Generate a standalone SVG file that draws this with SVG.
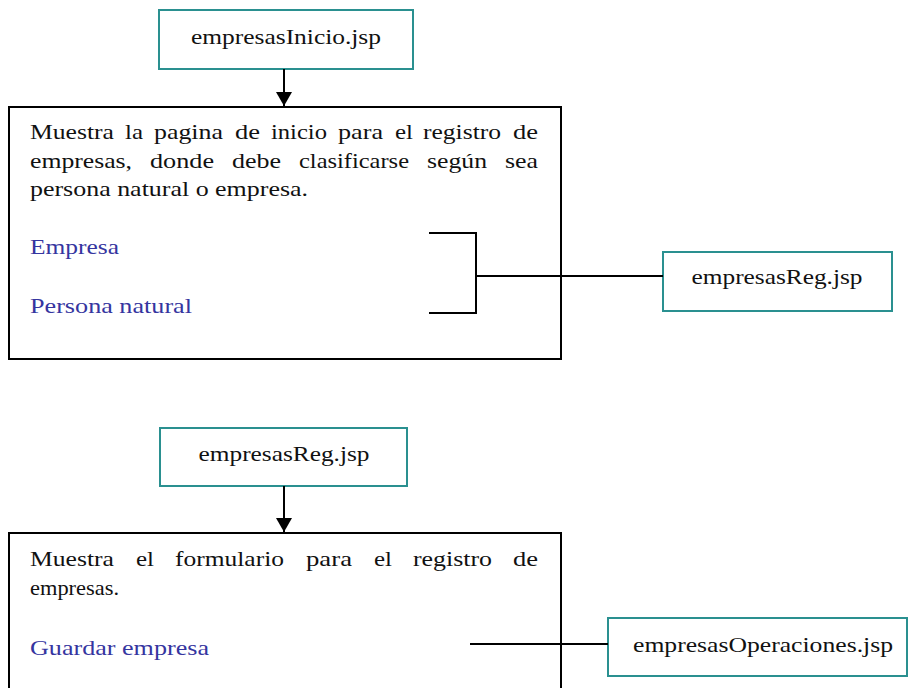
<svg xmlns="http://www.w3.org/2000/svg" width="909" height="688" viewBox="0 0 909 688">
<style>
  .page { fill: #ffffff; stroke: #000000; stroke-width: 2; }
  .file { fill: #ffffff; stroke: #2a9090; stroke-width: 2; }
  .t { font-family: "Liberation Serif", "DejaVu Serif", serif; font-size: 22px; fill: #111111; }
  .link { font-family: "Liberation Serif", "DejaVu Serif", serif; font-size: 22px; fill: #3535a0; }
  .mid { text-anchor: middle; }
  .wire { fill: none; stroke: #000000; stroke-width: 2; }
</style>
<defs>
  <marker id="arr" markerWidth="14" markerHeight="16" refX="14" refY="8" orient="auto" markerUnits="userSpaceOnUse" viewBox="0 0 14 16">
    <path d="M0,0 L14,8 L0,16 Z" fill="#000000"/>
  </marker>
</defs>
<rect width="909" height="688" fill="#ffffff"/>

<g id="node-inicio">
  <rect class="file" x="159" y="10" width="254" height="59"/>
  <text class="t mid" x="286" y="44" textLength="190" lengthAdjust="spacingAndGlyphs">empresasInicio.jsp</text>
</g>

<g id="node-page1">
  <rect class="page" x="9" y="107" width="552" height="252"/>
  <text class="t" y="139"><tspan x="30" textLength="84" lengthAdjust="spacingAndGlyphs">Muestra</tspan><tspan x="125" textLength="18" lengthAdjust="spacingAndGlyphs">la</tspan><tspan x="154" textLength="69" lengthAdjust="spacingAndGlyphs">pagina</tspan><tspan x="235" textLength="25" lengthAdjust="spacingAndGlyphs">de</tspan><tspan x="271" textLength="56" lengthAdjust="spacingAndGlyphs">inicio</tspan><tspan x="338" textLength="45" lengthAdjust="spacingAndGlyphs">para</tspan><tspan x="395" textLength="18" lengthAdjust="spacingAndGlyphs">el</tspan><tspan x="423" textLength="78" lengthAdjust="spacingAndGlyphs">registro</tspan><tspan x="513" textLength="25" lengthAdjust="spacingAndGlyphs">de</tspan></text>
  <text class="t" y="168"><tspan x="30" textLength="102" lengthAdjust="spacingAndGlyphs">empresas,</tspan><tspan x="150" textLength="64" lengthAdjust="spacingAndGlyphs">donde</tspan><tspan x="232" textLength="49" lengthAdjust="spacingAndGlyphs">debe</tspan><tspan x="299" textLength="110" lengthAdjust="spacingAndGlyphs">clasificarse</tspan><tspan x="427" textLength="60" lengthAdjust="spacingAndGlyphs">según</tspan><tspan x="505" textLength="33" lengthAdjust="spacingAndGlyphs">sea</tspan></text>
  <text class="t" x="30" y="196" textLength="278" lengthAdjust="spacingAndGlyphs">persona natural o empresa.</text>
  <text class="link" x="30" y="254" textLength="89" lengthAdjust="spacingAndGlyphs">Empresa</text>
  <text class="link" x="30" y="313" textLength="162" lengthAdjust="spacingAndGlyphs">Persona natural</text>
</g>

<g id="node-reg1">
  <rect class="file" x="663" y="252" width="229" height="59"/>
  <text class="t mid" x="777" y="284" textLength="171" lengthAdjust="spacingAndGlyphs">empresasReg.jsp</text>
</g>

<g id="node-reg2">
  <rect class="file" x="160" y="428" width="247" height="58"/>
  <text class="t mid" x="284" y="461" textLength="171" lengthAdjust="spacingAndGlyphs">empresasReg.jsp</text>
</g>

<g id="node-page2">
  <rect class="page" x="9" y="533" width="552" height="170"/>
  <text class="t" y="566"><tspan x="30" textLength="84" lengthAdjust="spacingAndGlyphs">Muestra</tspan><tspan x="136" textLength="18" lengthAdjust="spacingAndGlyphs">el</tspan><tspan x="175" textLength="109" lengthAdjust="spacingAndGlyphs">formulario</tspan><tspan x="306" textLength="46" lengthAdjust="spacingAndGlyphs">para</tspan><tspan x="374" textLength="18" lengthAdjust="spacingAndGlyphs">el</tspan><tspan x="413" textLength="79" lengthAdjust="spacingAndGlyphs">registro</tspan><tspan x="513" textLength="25" lengthAdjust="spacingAndGlyphs">de</tspan></text>
  <text class="t" x="30" y="595" textLength="89" lengthAdjust="spacingAndGlyphs">empresas.</text>
  <text class="link" x="30" y="655" textLength="179" lengthAdjust="spacingAndGlyphs">Guardar empresa</text>
</g>

<g id="node-operaciones">
  <rect class="file" x="608" y="618" width="299" height="58"/>
  <text class="t mid" x="763" y="652" textLength="260" lengthAdjust="spacingAndGlyphs">empresasOperaciones.jsp</text>
</g>

<g id="connectors">
  <line class="wire" x1="284" y1="69" x2="284" y2="106" marker-end="url(#arr)"/>
  <path class="wire" d="M429,233 H476 V313 H429"/>
  <line class="wire" x1="476" y1="276" x2="663" y2="276"/>
  <line class="wire" x1="284" y1="486" x2="284" y2="532" marker-end="url(#arr)"/>
  <line class="wire" x1="470" y1="644" x2="608" y2="644"/>
</g>
</svg>
